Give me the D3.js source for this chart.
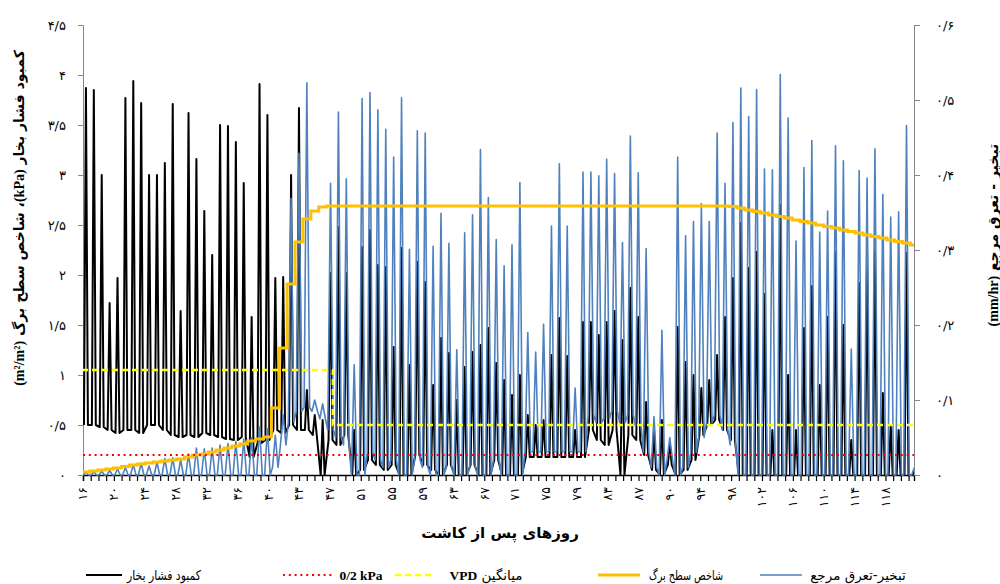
<!DOCTYPE html>
<html>
<head>
<meta charset="utf-8">
<script src="https://cdn.jsdelivr.net/npm/d3@7"></script>
<style>
  body { margin: 0; background: #fff; }
  svg { display: block; }
  text { font-family: "DejaVu Sans", sans-serif; fill: #000; }
  .latin { font-family: "Liberation Serif", serif; font-weight: bold; }
</style>
</head>
<body>
<svg id="chart" width="1000" height="584"></svg>
<script>
// ---- daily readings (index = day of record, 0 … 105) ----
// vapour pressure deficit, kPa: midday peak and night-time low
const vpdPeak = [
  3.87, 3.85, 3.00, 1.72, 1.97, 3.77, 3.94, 3.72, 3.00, 3.00,
  3.12, 3.71, 1.64, 3.62, 3.16, 2.64, 2.20, 3.50, 3.49, 3.33,
  2.92, 1.58, 3.91, 3.60, 1.97, 1.98, 3.00, 3.67, 0.85, 0.60,
  0.55, 2.02, 2.48, 2.02, 0.45, 2.28, 2.45, 2.10, 2.08, 1.28,
  2.27, 1.10, 2.13, 1.93, 0.90, 1.37, 1.22, 0.75, 1.08, 1.23,
  1.30, 1.47, 1.12, 0.95, 0.80, 1.00, 0.60, 0.50, 0.55, 1.20,
  1.57, 1.19, 0.45, 1.53, 1.53, 1.40, 1.53, 1.64, 1.35, 1.87,
  1.58, 0.73, 0.45, 0.55, 0.30, 1.48, 1.13, 1.00, 0.87, 0.95,
  1.20, 1.58, 1.97, 2.52, 2.07, 2.23, 1.81, 0.45, 2.70, 1.00,
  0.45, 1.47, 1.89, 0.90, 1.58, 2.23, 1.50, 0.35, 1.92, 2.25,
  2.25, 0.82, 0.50, 0.45, 2.22, 0.05
];
const vpdLow = [
  0.50, 0.50, 0.48, 0.45, 0.42, 0.45, 0.45, 0.42, 0.50, 0.50,
  0.45, 0.40, 0.38, 0.40, 0.38, 0.42, 0.40, 0.38, 0.36, 0.35,
  0.38, 0.18, 0.32, 0.35, 0.45, 0.42, 0.50, 0.45, 0.45, 0.40,
  0.00, 0.35, 0.30, 0.40, 0.00, 0.05, 0.15, 0.10, 0.05, 0.10,
  0.00, 0.00, 0.20, 0.10, 0.05, 0.00, 0.10, 0.00, 0.00, 0.10,
  0.00, 0.00, 0.15, 0.00, 0.00, 0.00, 0.18, 0.18, 0.18, 0.18,
  0.18, 0.18, 0.18, 0.18, 0.45, 0.35, 0.30, 0.45, 0.00, 0.40,
  0.35, 0.20, 0.05, 0.00, 0.10, 0.00, 0.05, 0.15, 0.40, 0.50,
  0.55, 0.45, 0.35, 0.00, 0.00, 0.00, 0.00, 0.00, 0.00, 0.00,
  0.00, 0.00, 0.00, 0.00, 0.00, 0.00, 0.00, 0.00, 0.00, 0.00,
  0.00, 0.00, 0.00, 0.00, 0.00, 0.00
];
// reference evapotranspiration, mm/hr: midday peak and night-time low
const etPeak = [
  0.003, 0.004, 0.005, 0.006, 0.008, 0.010, 0.014, 0.016, 0.012, 0.017,
  0.022, 0.023, 0.020, 0.028, 0.036, 0.035, 0.036, 0.040, 0.042, 0.045,
  0.048, 0.050, 0.064, 0.062, 0.053, 0.080, 0.369, 0.429, 0.523, 0.100,
  0.095, 0.389, 0.484, 0.395, 0.147, 0.502, 0.510, 0.487, 0.461, 0.424,
  0.503, 0.301, 0.459, 0.456, 0.305, 0.349, 0.309, 0.167, 0.323, 0.347,
  0.434, 0.370, 0.314, 0.279, 0.307, 0.390, 0.190, 0.164, 0.201, 0.332,
  0.415, 0.332, 0.116, 0.404, 0.404, 0.399, 0.421, 0.402, 0.310, 0.452,
  0.403, 0.302, 0.078, 0.193, 0.050, 0.424, 0.319, 0.338, 0.362, 0.338,
  0.456, 0.389, 0.470, 0.516, 0.478, 0.514, 0.408, 0.407, 0.534, 0.476,
  0.312, 0.410, 0.446, 0.324, 0.352, 0.439, 0.419, 0.168, 0.406, 0.396,
  0.435, 0.374, 0.344, 0.351, 0.466, 0.010
];
const etLow = [
  0, 0, 0, 0, 0, 0, 0, 0, 0, 0,
  0, 0, 0, 0, 0, 0, 0, 0, 0, 0,
  0, 0, 0, 0, 0.010, 0.040, 0.070, 0.085, 0.090, 0.085,
  0.075, 0.060, 0.050, 0.040, 0, 0, 0.030, 0.020, 0.010, 0.020,
  0, 0, 0.020, 0.010, 0, 0, 0.010, 0, 0, 0.010,
  0, 0, 0.020, 0, 0, 0, 0.031, 0.031, 0.031, 0.031,
  0.031, 0.031, 0.031, 0.031, 0.080, 0.070, 0.075, 0.085, 0.070, 0.080,
  0.065, 0.030, 0.010, 0, 0.020, 0, 0.010, 0.030, 0.050, 0.070,
  0.080, 0.060, 0.040, 0, 0, 0, 0, 0, 0, 0,
  0, 0, 0, 0, 0, 0, 0, 0, 0, 0,
  0, 0, 0, 0, 0, 0
];
// leaf area index, m2/m2, one value per day
const laiDaily = [
  0.03, 0.04, 0.05, 0.06, 0.07, 0.085, 0.10, 0.11, 0.12, 0.13,
  0.14, 0.15, 0.16, 0.18, 0.20, 0.21, 0.23, 0.25, 0.27, 0.29,
  0.31, 0.34, 0.36, 0.38, 0.67, 1.27, 1.91, 2.33, 2.56, 2.64,
  2.68, 2.69, 2.69, 2.69, 2.69, 2.69, 2.69, 2.69, 2.69, 2.69,
  2.69, 2.69, 2.69, 2.69, 2.69, 2.69, 2.69, 2.69, 2.69, 2.69,
  2.69, 2.69, 2.69, 2.69, 2.69, 2.69, 2.69, 2.69, 2.69, 2.69,
  2.69, 2.69, 2.69, 2.69, 2.69, 2.69, 2.69, 2.69, 2.69, 2.69,
  2.69, 2.69, 2.69, 2.69, 2.69, 2.69, 2.69, 2.69, 2.69, 2.69,
  2.69, 2.69, 2.685, 2.67, 2.65, 2.635, 2.62, 2.60, 2.585, 2.57,
  2.55, 2.535, 2.52, 2.50, 2.485, 2.47, 2.45, 2.435, 2.42, 2.40,
  2.385, 2.37, 2.35, 2.335, 2.32, 2.30
];
// mean VPD per growth stage (stage start in days of record)
const meanVpdStart = [0, 31.8];
const meanVpdValue = [1.05, 0.50];
// reference threshold, kPa
const thresholdKPa = 0.2;

// axis labels
const dayLabels = ["۱۶","۲۰","۲۴","۲۸","۳۲","۳۶","۴۰","۴۳","۴۷","۵۱","۵۵","۵۹","۶۳","۶۷",
                   "۷۱","۷۵","۷۹","۸۳","۸۷","۹۰","۹۴","۹۸","۱۰۲","۱۰۶","۱۱۰","۱۱۴","۱۱۸"];
const leftTicks = [0, 0.5, 1, 1.5, 2, 2.5, 3, 3.5, 4, 4.5];
const leftTickText = ["۰","۰/۵","۱","۱/۵","۲","۲/۵","۳","۳/۵","۴","۴/۵"];
const rightTicks = [0, 0.1, 0.2, 0.3, 0.4, 0.5, 0.6];
const rightTickText = ["۰","۰/۱","۰/۲","۰/۳","۰/۴","۰/۵","۰/۶"];

// ---- layout ----
const L = 83, R = 914, T = 25, B = 475;
const svg = d3.select("#chart");

const yLeft = d3.scaleLinear().domain([0, 4.5]).range([B, T]);
const yRight = d3.scaleLinear().domain([0, 0.6]).range([B, T]);
const xCat = d3.scaleLinear().domain([0, 107.7]).range([L, R]);   // category tick marks
const nDays = 105.45;
const xDay = d3.scaleLinear().domain([0, nDays]).range([82, R]);  // elapsed time, days

svg.append("defs").append("clipPath").attr("id", "plotClip")
  .append("rect").attr("x", L).attr("y", T - 5).attr("width", R - L).attr("height", B - T + 6);

// ---- axes ----
const gx = svg.append("g").attr("transform", `translate(0,${B})`)
  .call(d3.axisBottom(xCat).tickValues(d3.range(0, 108)).tickSize(6).tickFormat(""));
gx.select(".domain").attr("stroke", "#000").attr("stroke-width", 1.4);
gx.selectAll(".tick line").attr("stroke", "#000").attr("stroke-width", 1.2);

svg.append("g").selectAll("text").data(dayLabels).join("text")
  .attr("transform", (d, i) => `translate(${xCat(i * 4)},487) rotate(-90)`)
  .attr("text-anchor", "end").attr("dy", "0.35em")
  .style("font-size", "12.5px").attr("direction", "ltr")
  .text(d => d);

const gl = svg.append("g").attr("transform", `translate(${L},0)`)
  .call(d3.axisLeft(yLeft).tickValues(leftTicks).tickSize(5)
        .tickFormat((d, i) => leftTickText[i]));
gl.select(".domain").attr("stroke", "#868686");
gl.selectAll(".tick line").attr("stroke", "#868686");
gl.selectAll(".tick text").attr("x", -17).style("font-size", "13px")
  .style("font-family", "DejaVu Sans, sans-serif").attr("direction", "ltr");

const gr = svg.append("g").attr("transform", `translate(${R},0)`)
  .call(d3.axisRight(yRight).tickValues(rightTicks).tickSize(6)
        .tickFormat((d, i) => rightTickText[i]));
gr.select(".domain").attr("stroke", "#868686");
gr.selectAll(".tick line").attr("stroke", "#868686");
gr.selectAll(".tick text").attr("x", 22).style("font-size", "13px")
  .style("font-family", "DejaVu Sans, sans-serif").attr("direction", "ltr");

// ---- series ----
function dailyPoints(low, peak, rise, fall) {
  const pts = [];
  low.forEach((lo, d) => {
    pts.push([d + rise, lo]);
    pts.push([d + 0.5, peak[d]]);
    pts.push([d + fall, lo]);
  });
  return pts;
}

const plotG = svg.append("g").attr("clip-path", "url(#plotClip)");

const vpdLine = d3.line().x(p => xDay(p[0])).y(p => yLeft(p[1]));
plotG.append("path").datum(dailyPoints(vpdLow, vpdPeak, 0.25, 0.75))
  .attr("d", vpdLine).attr("fill", "none").attr("stroke", "#000")
  .attr("stroke-width", 2).attr("stroke-linejoin", "round");

const etLine = d3.line().x(p => xDay(p[0])).y(p => yRight(p[1]));
plotG.append("path").datum(dailyPoints(etLow, etPeak, 0.15, 0.85))
  .attr("d", etLine).attr("fill", "none").attr("stroke", "#4F81BD")
  .attr("stroke-width", 1.6).attr("stroke-linejoin", "round");

const laiPts = laiDaily.map((v, d) => [d, v]);
laiPts.push([nDays, laiDaily[laiDaily.length - 1]]);
plotG.append("path").datum(laiPts)
  .attr("d", d3.line().curve(d3.curveStepAfter).x(p => xDay(p[0])).y(p => yLeft(p[1])))
  .attr("fill", "none").attr("stroke", "#FFC000").attr("stroke-width", 3);

const meanPts = meanVpdStart.map((s, i) => [s, meanVpdValue[i]]);
meanPts.push([nDays, meanVpdValue[meanVpdValue.length - 1]]);
plotG.append("path").datum(meanPts)
  .attr("d", d3.line().curve(d3.curveStepAfter).x(p => xDay(p[0])).y(p => yLeft(p[1])))
  .attr("fill", "none").attr("stroke", "#FFFF00").attr("stroke-width", 2.6)
  .attr("stroke-dasharray", "6,4");

plotG.append("line")
  .attr("x1", L).attr("x2", R).attr("y1", yLeft(thresholdKPa)).attr("y2", yLeft(thresholdKPa))
  .attr("stroke", "#FF0000").attr("stroke-width", 2).attr("stroke-dasharray", "2,3.8");

// ---- titles ----
const leftTitle = svg.append("text")
  .attr("transform", "translate(19,218) rotate(-90)")
  .attr("text-anchor", "middle").attr("dominant-baseline", "central").attr("direction", "rtl")
  .style("font-size", "14px").style("font-weight", "bold");
leftTitle.append("tspan").text("کمبود فشار بخار ");
leftTitle.append("tspan").attr("class", "latin").text("(kPa)");
leftTitle.append("tspan").text("، شاخص سطح برگ ");
leftTitle.append("tspan").attr("class", "latin").text("(m²/m²)");

const rightTitle = svg.append("text")
  .attr("transform", "translate(993,235) rotate(-90)")
  .attr("text-anchor", "middle").attr("dominant-baseline", "central").attr("direction", "rtl")
  .style("font-size", "14px").style("font-weight", "bold");
rightTitle.append("tspan").text("تبخیر - تعرق مرجع ");
rightTitle.append("tspan").attr("class", "latin").text("(mm/hr)");

svg.append("text")
  .attr("x", 500).attr("y", 538).attr("text-anchor", "middle").attr("direction", "rtl")
  .style("font-size", "15px").style("font-weight", "bold")
  .text("روزهای پس از کاشت");

// ---- legend ----
const legendItems = [
  { parts: [["کمبود فشار بخار", false]], stroke: "#000", width: 2, dash: null, x1: 86, x2: 122, tx: 164, len: 74 },
  { parts: [["0/2 kPa", true]], stroke: "#FF0000", width: 2, dash: "2,3.8", x1: 283, x2: 335, tx: 361, dir: "ltr" },
  { parts: [["میانگین ", false], ["VPD", true]], stroke: "#FFFF00", width: 2.6, dash: "6,4", x1: 395, x2: 435, tx: 486 },
  { parts: [["شاخص سطح برگ", false]], stroke: "#FFC000", width: 3, dash: null, x1: 598, x2: 640, tx: 686, len: 74 },
  { parts: [["تبخیر-تعرق مرجع", false]], stroke: "#4F81BD", width: 1.6, dash: null, x1: 760, x2: 802, tx: 858 }
];
const lg = svg.append("g");
const ly = 575;
lg.selectAll("line").data(legendItems).join("line")
  .attr("x1", d => d.x1).attr("x2", d => d.x2).attr("y1", ly).attr("y2", ly)
  .attr("stroke", d => d.stroke).attr("stroke-width", d => d.width)
  .attr("stroke-dasharray", d => d.dash);
lg.selectAll("text").data(legendItems).join("text")
  .attr("x", d => d.tx).attr("y", ly).attr("dy", "0.35em")
  .attr("text-anchor", "middle").attr("direction", d => d.dir || "rtl")
  .attr("textLength", d => d.len || null)
  .attr("lengthAdjust", "spacingAndGlyphs")
  .style("font-size", "13.5px")
  .each(function (d) {
    d3.select(this).selectAll("tspan").data(d.parts).join("tspan")
      .attr("class", p => p[1] ? "latin" : null)
      .text(p => p[0]);
  });
</script>
</body>
</html>
